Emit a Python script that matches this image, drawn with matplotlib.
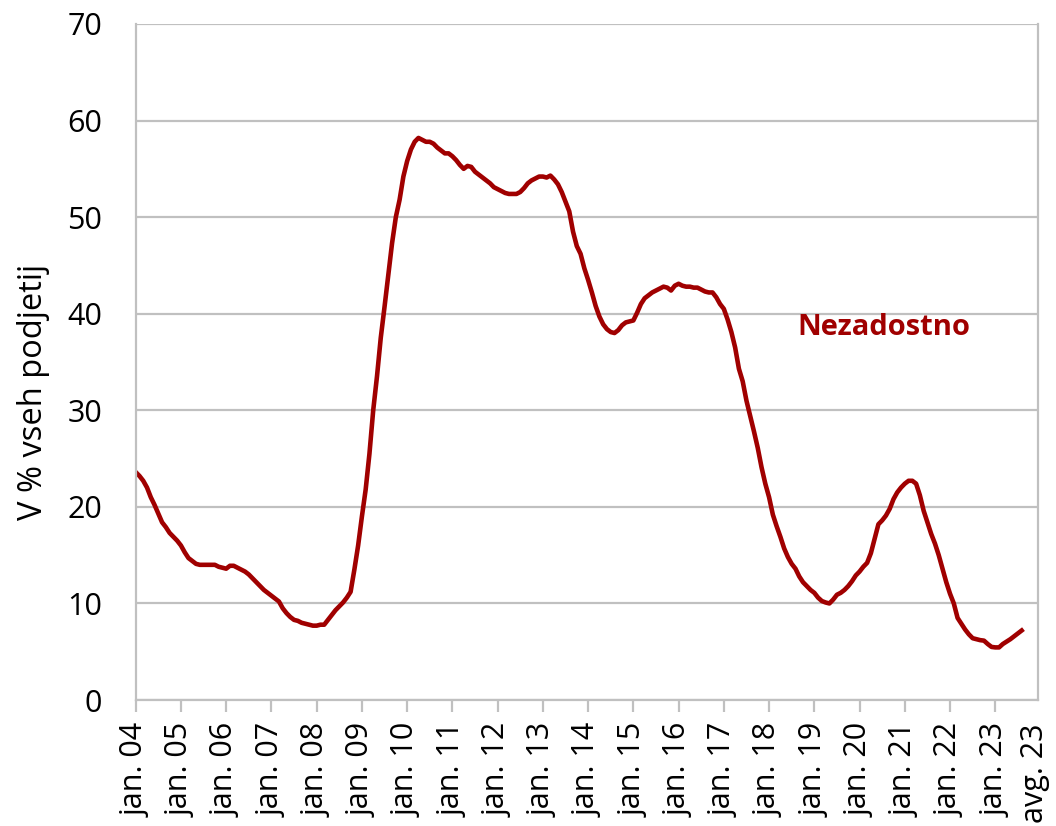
import matplotlib.pyplot as plt

# monthly share, jan. 2004 - avg. 2023
y2004 = [23.6, 23.2, 22.7, 22.0, 21.0, 20.2, 19.3, 18.4, 17.9, 17.3, 16.9, 16.5]
y2005 = [16.0, 15.3, 14.7, 14.4, 14.1, 14.0, 14.0, 14.0, 14.0, 14.0, 13.8, 13.7]
y2006 = [13.6, 13.9, 13.9, 13.7, 13.5, 13.3, 13.0, 12.6, 12.2, 11.8, 11.4, 11.1]
y2007 = [10.8, 10.5, 10.2, 9.5, 9.0, 8.6, 8.3, 8.2, 8.0, 7.9, 7.8, 7.7]
y2008 = [7.7, 7.8, 7.8, 8.3, 8.8, 9.3, 9.7, 10.1, 10.6, 11.2, 13.5, 16.0]
y2009 = [19.0, 21.8, 25.5, 30.0, 33.5, 37.5, 40.7, 44.0, 47.3, 50.0, 51.8, 54.2]
y2010 = [55.8, 57.0, 57.8, 58.2, 58.0, 57.8, 57.8, 57.6, 57.2, 56.9, 56.6, 56.6]
y2011 = [56.3, 55.9, 55.4, 55.0, 55.3, 55.2, 54.7, 54.4, 54.1, 53.8, 53.5, 53.1]
y2012 = [52.9, 52.7, 52.5, 52.4, 52.4, 52.4, 52.6, 53.0, 53.5, 53.8, 54.0, 54.2]
y2013 = [54.2, 54.1, 54.3, 53.9, 53.4, 52.6, 51.6, 50.6, 48.5, 47.0, 46.2, 44.7]
y2014 = [43.5, 42.2, 40.8, 39.7, 38.9, 38.4, 38.1, 38.0, 38.3, 38.8, 39.1, 39.2]
y2015 = [39.3, 40.1, 41.0, 41.6, 41.9, 42.2, 42.4, 42.6, 42.8, 42.7, 42.4, 42.9]
y2016 = [43.1, 42.9, 42.8, 42.8, 42.7, 42.7, 42.5, 42.3, 42.2, 42.2, 41.7, 41.0]
y2017 = [40.5, 39.4, 38.1, 36.5, 34.3, 33.0, 31.0, 29.4, 27.8, 26.1, 24.1, 22.4]
y2018 = [21.0, 19.2, 18.0, 16.9, 15.7, 14.8, 14.1, 13.6, 12.8, 12.2, 11.8, 11.4]
y2019 = [11.1, 10.6, 10.25, 10.1, 10.0, 10.4, 10.9, 11.1, 11.4, 11.8, 12.3, 12.9]
y2020 = [13.3, 13.8, 14.2, 15.2, 16.7, 18.2, 18.6, 19.1, 19.8, 20.8, 21.5, 22.0]
y2021 = [22.4, 22.7, 22.7, 22.4, 21.2, 19.6, 18.4, 17.2, 16.2, 15.0, 13.6, 12.2]
y2022 = [11.0, 10.0, 8.5, 7.9, 7.3, 6.8, 6.4, 6.3, 6.2, 6.15, 5.8, 5.5]
y2023 = [5.45, 5.45, 5.8, 6.05, 6.3, 6.6, 6.9, 7.2]

values = (y2004 + y2005 + y2006 + y2007 + y2008 + y2009 + y2010 + y2011 + y2012
          + y2013 + y2014 + y2015 + y2016 + y2017 + y2018 + y2019 + y2020
          + y2021 + y2022 + y2023)

tick_labels = ["jan. %02d" % y for y in range(4, 24)] + ["avg. 23"]
tick_pos = [12 * i for i in range(20)] + [238.6]

red = "#A00000"
grey = "#C0C0C0"

plt.rcParams['font.family'] = ['Open Sans', 'DejaVu Sans']

fig = plt.figure(figsize=(10.56, 8.26), dpi=100)
ax = fig.add_axes([0.1285, 0.1525, 0.8547, 0.8185])

ax.plot(range(len(values)), values, color=red, lw=3.3, solid_joinstyle='round')

ax.set_xlim(0, 239.4)
ax.set_ylim(0, 70)
ax.set_yticks(range(0, 71, 10))
ax.grid(axis='y', color=grey, lw=1.6)
ax.set_axisbelow(True)

for s in ['left', 'bottom', 'right']:
    ax.spines[s].set_color(grey)
    ax.spines[s].set_linewidth(1.6)
ax.spines['top'].set_visible(False)

ax.tick_params(axis='y', length=0, pad=24, labelsize=22)
ax.set_xticks(tick_pos)
ax.set_xticklabels(tick_labels, rotation=90, fontsize=22)
ax.tick_params(axis='x', length=8.6, width=1.6, color=grey, pad=8)
ax.xaxis.get_major_ticks()[-1].tick1line.set_visible(False)

ax.set_ylabel("V % vseh podjetij", fontsize=23.5)
ax.yaxis.set_label_coords(-0.095, 0.455)

ax.text(175.5, 38.6, "Nezadostno", color=red, fontsize=21, fontweight='bold',
        va='center', ha='left')

plt.savefig("out.png", dpi=100)
